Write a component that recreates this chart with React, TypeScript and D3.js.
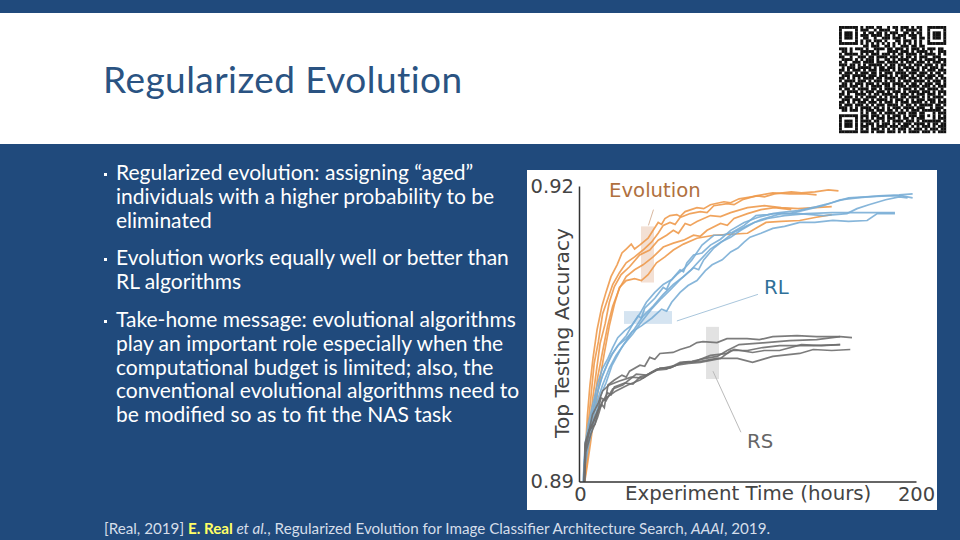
import React, { useEffect, useRef } from 'react';
import * as d3 from 'd3';

type Pt = [number, number];

const yTicks = [0.89, 0.92];
const xTicks = [0, 200];
const xTickLabels = ['0', '200'];

// hours, accuracy
const evolutionRuns: Pt[][] = [
  [[3,.89],[3.8,.8932],[5,.8967],[6.5,.8998],[8.3,.9025],[10.7,.9054],[13.6,.9078],[16,.9092],[19,.9108],[22.6,.912],[25.5,.9132],[28,.9136],[31,.9141],[33,.9136],[36,.914],[41,.9147],[44,.9155],[47,.9163],[49,.9161],[51,.9167],[54,.917],[58,.9171],[60,.9169],[63,.9174],[70,.9178],[74,.9177],[78,.9181],[86,.9184],[90,.9183],[95,.9187],[106,.919],[110,.9189],[116,.9192],[126,.9194],[132,.9193],[140,.9194],[148,.9196],[154,.9195]],
  [[3,.89],[4,.8925],[5.5,.8958],[7.3,.899],[9,.902],[11.5,.9042],[14,.907],[17,.9085],[20,.91],[24,.9112],[28,.9122],[33,.9128],[38,.9135],[43,.9143],[47,.9152],[50,.916],[54,.9163],[57,.9161],[60,.9168],[66,.9172],[72,.9174],[76,.9173],[80,.918],[88,.9182],[92,.9181],[97,.9186],[105,.919],[115,.9193],[125,.9192],[135,.9192],[141,.9191]],
  [[3.2,.89],[4.2,.892],[6,.895],[8.2,.8985],[10,.9008],[12.5,.904],[15.5,.906],[18,.9082],[21,.9098],[25,.911],[30,.9118],[36,.913],[42,.9135],[47,.9145],[52,.915],[56,.9155],[59,.9152],[63,.9162],[66,.916],[70,.9164],[78,.917],[84,.9169],[90,.9173],[100,.9178],[110,.918],[120,.9178],[130,.9177],[140,.9178],[150,.9179]],
  [[3.2,.89],[4.4,.8915],[6.3,.8945],[8.7,.8975],[11,.9005],[14,.9032],[17,.9058],[20,.9078],[24,.9096],[28,.9108],[33,.9115],[38,.912],[44,.9128],[50,.9138],[56,.9142],[62,.9145],[68,.915],[72,.9149],[76,.9155],[84,.9162],[88,.916],[92,.9167],[100,.9172],[108,.9176],[116,.9178],[126,.9176]],
  [[3.4,.89],[4.8,.8915],[6.9,.894],[9.2,.897],[12,.9],[15,.903],[18,.9058],[21,.908],[24,.9097],[28,.9104],[33,.9106],[37,.9104],[41,.911],[46,.9122],[51,.9128],[56,.9135],[62,.9141],[70,.9147],[80,.915],[90,.9151],[100,.9152],[105,.9157],[111,.9163],[120,.9164],[131,.9165],[140,.9168],[150,.9171]],
];

const rlRuns: Pt[][] = [
  [[2.6,.89],[3,.892],[3.8,.894],[5.5,.8958],[7.7,.8975],[11.3,.9001],[14,.9015],[17.2,.9025],[20,.9036],[23,.9046],[27,.9053],[31.5,.9059],[35,.9068],[37,.9066],[39,.9076],[45,.9086],[50,.9097],[52,.9095],[54,.9103],[58,.911],[63,.9117],[67,.9125],[73,.914],[80,.915],[85,.915],[91,.9153],[98,.916],[105,.917],[112,.9171],[119,.9173],[130,.9175],[141,.9179],[150,.9183],[160,.9188],[170,.9189],[183,.919],[192,.919],[198,.9188]],
  [[2.6,.89],[3,.8915],[4.2,.8938],[6,.8955],[8,.897],[11,.899],[14,.9008],[17,.902],[20,.903],[24,.904],[28,.9048],[32,.906],[36,.907],[40,.9082],[45,.9092],[50,.91],[55,.9105],[60,.9115],[62,.9113],[64,.9122],[68,.913],[73,.9132],[78,.914],[84,.9146],[90,.9155],[98,.9163],[106,.9168],[115,.9172],[125,.9172],[135,.9176],[145,.918],[155,.9186],[165,.9188],[178,.919],[190,.9191],[198,.9192]],
  [[2.8,.89],[3.4,.8925],[4.7,.8942],[7,.8962],[10,.8985],[13,.9003],[16,.9016],[19,.9028],[23,.9038],[28,.9045],[33,.9055],[38,.9068],[44,.9078],[50,.909],[56,.91],[62,.9108],[68,.9117],[71,.9115],[74,.9125],[80,.9137],[86,.9145],[92,.9153],[100,.916],[108,.9166],[120,.9172],[131,.9172],[145,.917],[159,.9172],[165,.9177],[172,.9181],[182,.9186],[190,.9189],[195,.9188]],
  [[2.8,.89],[3.4,.8918],[5,.8938],[7.5,.8958],[10.5,.898],[14,.8998],[18,.9015],[22,.9028],[27,.904],[32,.905],[37,.9062],[43,.9075],[49,.9086],[55,.9096],[60,.9105],[66,.9114],[72,.9125],[78,.9136],[84,.9143],[90,.9148],[96,.9155],[104,.9163],[112,.9167],[122,.917],[135,.9172],[150,.9173],[165,.9173],[178,.9173],[187.5,.9173]],
  [[3,.89],[3.8,.8918],[6,.894],[9,.8962],[13,.8988],[16,.9],[19.6,.9018],[25,.9035],[31.5,.9052],[37,.9058],[43.3,.9066],[49,.9075],[52,.9073],[55,.9082],[60,.9092],[64.7,.9099],[70,.9104],[75,.9114],[79,.912],[85,.9125],[90,.9133],[94.3,.9137],[98,.9143],[101.5,.9148],[108,.9152],[115,.9157],[122,.9159],[131,.9163],[140,.9163],[150.7,.9165],[160,.9164],[171,.9165],[177,.9172],[187.5,.9172]],
];

const rsRuns: Pt[][] = [
  [[3,.89],[3.8,.894],[6,.8952],[8.3,.896],[11,.8972],[13.6,.8978],[15,.8975],[17.2,.8998],[21,.9003],[25.5,.9008],[28,.9006],[30,.9012],[36.2,.9018],[39,.9017],[42,.9026],[45,.9024],[48,.903],[55.8,.9031],[60,.9034],[65.9,.9037],[70,.9041],[73.6,.9042],[81.9,.9041],[87.8,.9045],[99.7,.9045],[107,.9044],[115,.9047],[129.4,.9048],[141,.9047],[155,.9047],[162,.9046]],
  [[3,.89],[3.8,.8935],[6,.895],[9,.8962],[13,.8978],[17,.899],[19,.8988],[21,.8996],[27,.9],[32,.8999],[36.2,.9006],[40,.9008],[46,.9013],[52,.9014],[60,.9021],[67,.9022],[75,.9025],[82,.9027],[88,.9033],[95,.9039],[103,.904],[111,.9041],[125,.9043],[141,.9044],[155,.9047]],
  [[3.2,.89],[4,.893],[7,.8948],[11,.8965],[14,.8982],[17,.8986],[22,.8992],[29,.8998],[36.2,.9003],[42,.9009],[48,.9015],[55,.9016],[62,.9021],[72,.9022],[82,.9025],[94,.9025],[103,.9021],[109,.9024],[115,.9027],[131,.903],[139,.9034],[150,.9033],[161,.9034]],
  [[3.2,.89],[3.6,.8938],[5.5,.8948],[8,.8968],[11,.8978],[14,.8992],[18,.8998],[24,.9002],[31,.9006],[38,.9005],[43,.9011],[48,.9015],[54,.9015],[60,.902],[69,.9022],[78,.9028],[88,.903],[92,.9034],[103,.9031],[110,.9033],[119,.9033],[132,.9039],[144,.9038],[155,.9039]],
  [[3.4,.89],[3.8,.8932],[6,.8952],[9.5,.8958],[13,.8985],[16,.8982],[20,.8994],[26,.8998],[34,.9009],[40,.9008],[46,.9014],[52,.9016],[58,.9018],[65,.902],[72,.9021],[84,.9025],[90,.9033],[100,.9033],[109,.9036],[119,.9038],[139,.9038],[155,.9039]],
];

// shaded spans: hours from, hours to, accuracy from, accuracy to
const evolutionBand = [36.8, 44.5, 0.9102, 0.9159];
const rlBand = [26.7, 55.2, 0.906, 0.9073];
const rsBand = [75.4, 83.1, 0.9004, 0.9057];

const bulletLines = [
  ['Regularized evolution: assigning “aged”', 'individuals with a higher probability to be', 'eliminated'],
  ['Evolution works equally well or better than', 'RL algorithms'],
  ['Take-home message: evolutional algorithms', 'play an important role especially when the', 'computational budget is limited; also, the', 'conventional evolutional algorithms need to', 'be modified so as to fit the NAS task'],
];

const qrRows = [
  '#######.#.###.##..#.##.###.#.##..#######',
  '#.....#.###..#.####..#.#.####.#..#.....#',
  '#.###.#..#.##.##.#.###..##.#.##..#.###.#',
  '#.###.#.###.####.##.#.###.###.#..#.###.#',
  '#.###.#..##..#..###.###.#..##.##.#.###.#',
  '#.....#.#.##.###.#...##.###.#.#..#.....#',
  '#######.#.#.#.#.#.#.#.#.#.#.#.#..#######',
  '.........##.###..##.#..###.##.##........',
  '###.#.###.#..####.##.###.#.###.#.###.##.',
  '.##.#...#####.#...####.###.#.####.#..###',
  '#.#####.#.#.###.###.#.##.####.#.####.#.#',
  '##..#..###.##.####.###.#.##.#.###..###..',
  '.####.#.#.###.#..##.#.####.##.#.####.###',
  '#.#..###.####.###.####.#.###.###.#.###.#',
  '###.##.#.#.#####.#.##.###.#.###.###.#.##',
  '.#.###.#####.#.##.###.#.####.#.##.###.#.',
  '##.#.###.#.###.####.#.##.#.###.#.###.###',
  '#.###.#.###.##.#.###.####.###.###.#.##.#',
  '.###.#####.###.###.#.#.###.#.###.###.##.',
  '##.#.#.#.####.##.####.###.###.#.###.#.##',
  '#.####.###.#.###.#.##.#.###.####.#.###.#',
  '.##.#.###.###.#.###.####.#.##.#.###.##.#',
  '###.###.#.#.####.##.#.###.####.###.#.###',
  '#.##.#.####.##.#.####.#.###.#.##.####.#.',
  '.#.####.#.###.###.#.###.#.####.###.#.###',
  '##.#..####.#.##.####.#.###.#.###.###.#.#',
  '#.###.#.#.####.#.#.###.##.####.#.#.####.',
  '.###.###.##.#.####.#.###.#.#.###.###.#.#',
  '##.#.#.###.###.#.###.#.###.####.#.##.###',
  '#.###.###.#.#.###.####.#.##.#.#####.##.#',
  '###.#.#.####.##.#.#.###.####.###..#.###.',
  '.##.###.#.###.###.##.#.#.#.###.#######.#',
  '........#.#.##.#.####.###.###.##...#.###',
  '#######.###.###.#.#.###.#.###.##.#.#.#.#',
  '#.....#.#.#.#.###.###.#.##.#.###...#.###',
  '#.###.#.####.##.#.#.####.###.#.#######.#',
  '#.###.#.#.###.#.###.#.#.###.####.#.##.##',
  '#.###.#.###.#.####.###.###.#.#.###.#.###',
  '#.....#.#.#.###.#.#.#.###.#.###.#.###.##',
  '#######.###.#.###.###.#.#.####.###.#.###',
];

const navy = '#204a7c';
const fontFamily = 'Lato, "Noto Sans", sans-serif';
const chartFont = '"DejaVu Sans", sans-serif';

const App: React.FC = () => {
  const svgRef = useRef<SVGSVGElement>(null);

  useEffect(() => {
    if (!svgRef.current) return;

    const svg = d3.select(svgRef.current);
    svg.selectAll('*').remove();

    // Slide background
    svg.append('rect').attr('width', 960).attr('height', 540).attr('fill', navy);
    svg.append('rect').attr('y', 13).attr('width', 960).attr('height', 131).attr('fill', 'white');

    svg.append('text')
      .attr('x', 103)
      .attr('y', 93)
      .style('font-family', fontFamily)
      .style('font-size', '37px')
      .style('letter-spacing', '0.45px')
      .style('fill', '#2a5382')
      .text('Regularized Evolution');

    // QR code
    const qrX = d3.scaleBand<number>().domain(d3.range(qrRows[0].length)).range([839, 946]);
    const qrY = d3.scaleBand<number>().domain(d3.range(qrRows.length)).range([26, 133]);
    const qr = svg.append('g').attr('fill', '#111');
    qrRows.forEach((row, r) => {
      row.split('').forEach((c, i) => {
        if (c !== '#') return;
        qr.append('rect')
          .attr('x', qrX(i) || 0)
          .attr('y', qrY(r) || 0)
          .attr('width', qrX.bandwidth() + 0.2)
          .attr('height', qrY.bandwidth() + 0.2);
      });
    });

    // Bullets
    const lineStep = 23.8;
    const blockStart = [180, 265, 327];
    bulletLines.forEach((lines, b) => {
      svg.append('rect')
        .attr('x', 104)
        .attr('y', blockStart[b] - 7)
        .attr('width', 3)
        .attr('height', 3)
        .attr('fill', 'white');
      lines.forEach((line, i) => {
        svg.append('text')
          .attr('x', 116)
          .attr('y', blockStart[b] + i * lineStep)
          .style('font-family', fontFamily)
          .style('font-size', '21px')
          .style('fill', 'white')
          .text(line);
      });
    });

    // Footer
    const footer = svg.append('text')
      .attr('x', 104)
      .attr('y', 534)
      .style('font-family', fontFamily)
      .style('font-size', '15.2px')
      .style('fill', '#d5deea');
    footer.append('tspan').text('[Real, 2019] ');
    footer.append('tspan').style('fill', '#ffff66').style('font-weight', 'bold').text('E. Real');
    footer.append('tspan').style('font-style', 'italic').text(' et al.');
    footer.append('tspan').text(', Regularized Evolution for Image Classifier Architecture Search, ');
    footer.append('tspan').style('font-style', 'italic').text('AAAI');
    footer.append('tspan').text(', 2019.');

    // Chart panel
    svg.append('rect').attr('x', 527).attr('y', 170).attr('width', 410).attr('height', 340).attr('fill', 'white');

    const xScale = d3.scaleLinear().domain([0, 200]).range([579, 916]);
    const yScale = d3.scaleLinear().domain([0.89, 0.92]).range([481.5, 186]);

    const soft = svg.append('defs').append('filter').attr('id', 'soft');
    soft.append('feGaussianBlur').attr('stdDeviation', 0.35);

    const band = (b: number[], fill: string) => {
      svg.append('rect')
        .attr('x', xScale(b[0]))
        .attr('y', yScale(b[3]))
        .attr('width', xScale(b[1]) - xScale(b[0]))
        .attr('height', yScale(b[2]) - yScale(b[3]))
        .attr('fill', fill);
    };
    band(evolutionBand, '#f3e0d4');
    band(rlBand, '#d5e4f1');
    band(rsBand, '#e2e2e2');

    const line = d3.line<Pt>().x(d => xScale(d[0])).y(d => yScale(d[1]));
    const curves = svg.append('g').attr('filter', 'url(#soft)').attr('fill', 'none').attr('stroke-width', 1.7);

    const drawRuns = (runs: Pt[][], color: string) => {
      curves.append('g')
        .selectAll('path')
        .data(runs)
        .enter().append('path')
        .attr('d', d => line(d))
        .attr('stroke', color)
        .attr('stroke-opacity', 0.9);
    };
    drawRuns(evolutionRuns, '#ee9a4d');
    drawRuns(rlRuns, '#7aaed6');
    drawRuns(rsRuns, '#6f6f6f');

    // Axes
    const xAxis = svg.append('g')
      .attr('transform', `translate(0,${yScale(0.89)})`)
      .call(d3.axisBottom(xScale).tickValues(xTicks).tickSize(0).tickFormat((_, i) => xTickLabels[i]));
    const yAxis = svg.append('g')
      .attr('transform', `translate(${xScale(0)},0)`)
      .call(d3.axisLeft(yScale).tickValues(yTicks).tickSize(0).tickFormat(d3.format('.2f')));
    [xAxis, yAxis].forEach(a => {
      a.select('.domain').attr('stroke', '#333').attr('stroke-width', 1.5);
      a.selectAll('text')
        .style('font-family', chartFont)
        .style('font-size', '19.5px')
        .style('fill', '#444');
    });
    xAxis.selectAll('text').attr('y', 6).attr('dx', (_, i) => (i === 1 ? 0 : 1));
    yAxis.selectAll('text').attr('x', -5).attr('dy', '0.32em');

    svg.append('text')
      .attr('x', 625)
      .attr('y', 500)
      .style('font-family', chartFont)
      .style('font-size', '19.8px')
      .style('fill', '#444')
      .text('Experiment Time (hours)');

    svg.append('text')
      .attr('transform', 'translate(569,333) rotate(-90)')
      .attr('text-anchor', 'middle')
      .style('font-family', chartFont)
      .style('font-size', '20.2px')
      .style('fill', '#444')
      .text('Top Testing Accuracy');

    // Callouts
    const callout = (label: string, lx: number, ly: number, color: string, from: number[], to: number[], lineColor: string) => {
      svg.append('text')
        .attr('x', lx)
        .attr('y', ly)
        .style('font-family', chartFont)
        .style('font-size', '19.7px')
        .style('fill', color)
        .text(label);
      svg.append('line')
        .attr('x1', xScale(from[0]))
        .attr('y1', yScale(from[1]))
        .attr('x2', xScale(to[0]))
        .attr('y2', yScale(to[1]))
        .attr('stroke', lineColor)
        .attr('stroke-width', 1);
    };
    callout('Evolution', 609, 197, '#b0703e', [44.2, 0.9176], [41.2, 0.916], '#d9b8a0');
    callout('RL', 764, 294, '#2f7099', [106.2, 0.9090], [58.1, 0.9063], '#a9c6dc');
    callout('RS', 747, 448, '#666', [79.5, 0.9012], [96.1, 0.8950], '#bbb');
  }, []);

  return <svg ref={svgRef} width={960} height={540} style={{ position: 'absolute', left: 0, top: 0 }}></svg>;
};

export default App;
